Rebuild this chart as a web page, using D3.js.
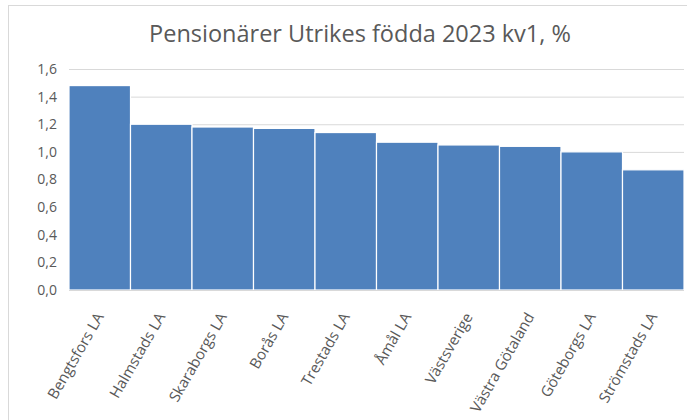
<!DOCTYPE html>
<html><head><meta charset="utf-8">
<script src="https://cdn.jsdelivr.net/npm/d3@7"></script>
<style>body{margin:0;background:#fff}svg{display:block}</style>
</head><body>
<script>
const categories = ["Bengtsfors LA","Halmstads LA","Skaraborgs LA","Borås LA","Trestads LA","Åmål LA","Västsverige","Västra Götaland","Göteborgs LA","Strömstads LA"];
const values = [1.48,1.20,1.18,1.17,1.14,1.07,1.05,1.04,1.00,0.87];
const yTicks = [0,0.2,0.4,0.6,0.8,1.0,1.2,1.4,1.6];
const title = "Pensionärer Utrikes födda 2023 kv1, %";

const W=687,H=420;
const m={left:69,right:3,top:69,bottom:130};
const font="'Open Sans', 'Noto Sans', sans-serif";
const svg=d3.select("body").append("svg").attr("width",W).attr("height",H);
svg.append("rect").attr("x",8.5).attr("y",5.5).attr("width",W).attr("height",H).attr("fill","#fff").attr("stroke","#d9d9d9");

const x=d3.scaleBand().domain(categories).range([m.left,W-m.right]).padding(0);
const y=d3.scaleLinear().domain([0,1.6]).range([H-m.bottom,m.top]);

svg.append("text").attr("x",360).attr("y",42).attr("text-anchor","middle")
 .attr("font-family",font).attr("font-size",23.5).attr("fill","#595959").text(title);

const fmt=d=>d3.format(".1f")(d).replace(".",",");
const ya=svg.append("g").attr("transform",`translate(${m.left},0)`)
 .call(d3.axisLeft(y).tickValues(yTicks).tickFormat(fmt).tickSize(-(W-m.right-m.left)).tickPadding(12));
ya.select(".domain").remove();
ya.selectAll(".tick line").attr("stroke","#d9d9d9");
ya.selectAll(".tick text").attr("font-family",font).attr("font-size",14).attr("fill","#595959");

svg.append("g").selectAll("rect").data(values).join("rect")
 .attr("x",(d,i)=>x(categories[i])).attr("width",x.bandwidth())
 .attr("y",d=>y(d)).attr("height",d=>y(0)-y(d))
 .attr("fill","#4f81bd").attr("stroke","#fff").attr("stroke-width",1.2);

svg.append("line").attr("x1",m.left).attr("x2",W-m.right).attr("y1",y(0)+0.5).attr("y2",y(0)+0.5).attr("stroke","#d9d9d9");

const xa=svg.append("g").attr("transform",`translate(0,${y(0)})`)
 .call(d3.axisBottom(x).tickSize(0).tickPadding(0));
xa.select(".domain").remove();
xa.selectAll(".tick text").attr("font-family",font).attr("font-size",15).attr("fill","#595959")
 .attr("text-anchor","end").attr("dy","0.35em")
 .attr("transform","translate(0,24) rotate(-60)");
</script>
</body></html>
